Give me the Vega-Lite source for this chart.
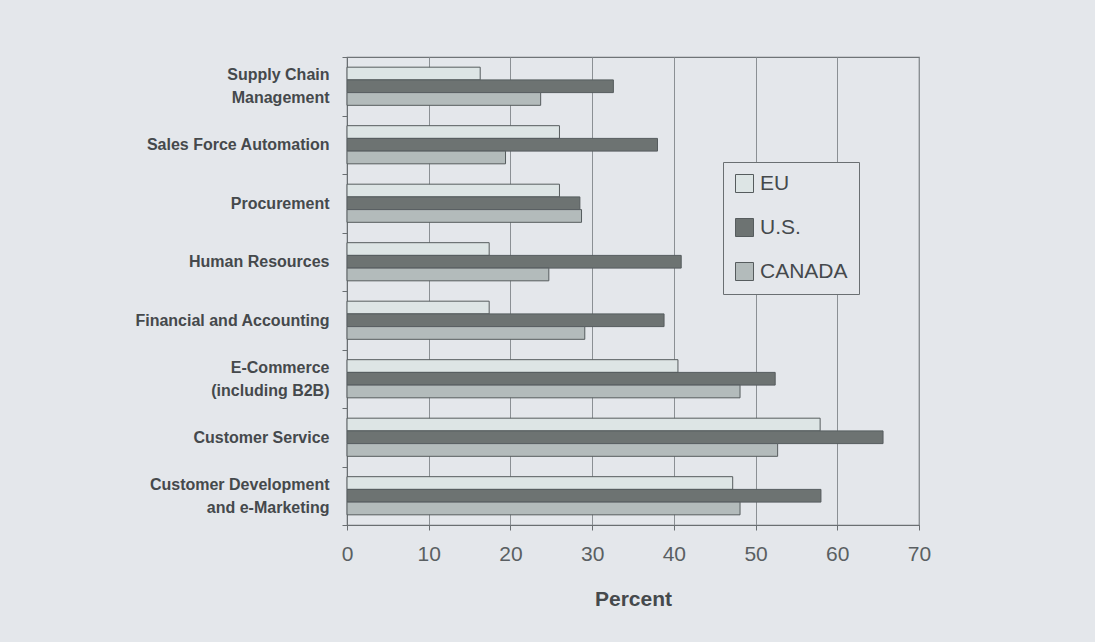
{
  "$schema": "https://vega.github.io/schema/vega-lite/v6.json",
  "width": 572,
  "height": 468,
  "autosize": {"type": "none"},
  "padding": {"left": 347, "top": 57, "right": 176, "bottom": 117},
  "background": "#e4e7eb",
  "config": {
    "font": "Liberation Sans",
    "view": {"stroke": "#6f7477", "strokeWidth": 1.2}
  },
  "data": {
    "values": [
      {"area": "Supply Chain Management", "region": "EU", "pct": 16.3},
      {"area": "Supply Chain Management", "region": "U.S.", "pct": 32.6},
      {"area": "Supply Chain Management", "region": "CANADA", "pct": 23.7},
      {"area": "Sales Force Automation", "region": "EU", "pct": 26.0},
      {"area": "Sales Force Automation", "region": "U.S.", "pct": 38.0},
      {"area": "Sales Force Automation", "region": "CANADA", "pct": 19.4},
      {"area": "Procurement", "region": "EU", "pct": 26.0},
      {"area": "Procurement", "region": "U.S.", "pct": 28.5},
      {"area": "Procurement", "region": "CANADA", "pct": 28.7},
      {"area": "Human Resources", "region": "EU", "pct": 17.4},
      {"area": "Human Resources", "region": "U.S.", "pct": 40.9},
      {"area": "Human Resources", "region": "CANADA", "pct": 24.7},
      {"area": "Financial and Accounting", "region": "EU", "pct": 17.4},
      {"area": "Financial and Accounting", "region": "U.S.", "pct": 38.8},
      {"area": "Financial and Accounting", "region": "CANADA", "pct": 29.1},
      {"area": "E-Commerce (including B2B)", "region": "EU", "pct": 40.5},
      {"area": "E-Commerce (including B2B)", "region": "U.S.", "pct": 52.4},
      {"area": "E-Commerce (including B2B)", "region": "CANADA", "pct": 48.1},
      {"area": "Customer Service", "region": "EU", "pct": 57.9},
      {"area": "Customer Service", "region": "U.S.", "pct": 65.6},
      {"area": "Customer Service", "region": "CANADA", "pct": 52.7},
      {"area": "Customer Development and e-Marketing", "region": "EU", "pct": 47.2},
      {"area": "Customer Development and e-Marketing", "region": "U.S.", "pct": 58.0},
      {"area": "Customer Development and e-Marketing", "region": "CANADA", "pct": 48.1}
    ]
  },
  "mark": {"type": "bar", "stroke": "#565c5e", "strokeWidth": 1},
  "encoding": {
    "y": {
      "field": "area",
      "type": "nominal",
      "sort": null,
      "scale": {"paddingInner": 0, "paddingOuter": 0},
      "axis": {
        "title": null,
        "domainColor": "#6a6f72",
        "tickColor": "#6a6f72",
        "tickSize": 5,
        "tickBand": "extent",
        "labelFont": "Liberation Sans",
        "labelFontWeight": "bold",
        "labelFontSize": 16,
        "labelColor": "#45494c",
        "labelPadding": 13,
        "labelLineHeight": 23,
        "labelLimit": 300,
        "labelOffset": {
          "condition": {
            "test": "indexof(['Supply Chain Management', 'E-Commerce (including B2B)', 'Customer Development and e-Marketing'], datum.value) >= 0",
            "value": -11.5
          },
          "value": 0
        },
        "labelExpr": "datum.value == 'Supply Chain Management' ? ['Supply Chain', 'Management'] : datum.value == 'E-Commerce (including B2B)' ? ['E-Commerce', '(including B2B)'] : datum.value == 'Customer Development and e-Marketing' ? ['Customer Development', 'and e-Marketing'] : datum.label"
      }
    },
    "yOffset": {
      "field": "region",
      "type": "nominal",
      "sort": ["EU", "U.S.", "CANADA"],
      "scale": {"paddingInner": 0, "paddingOuter": 0.8}
    },
    "x": {
      "field": "pct",
      "type": "quantitative",
      "scale": {"domain": [0, 70], "nice": false},
      "axis": {
        "title": "Percent",
        "values": [0, 10, 20, 30, 40, 50, 60, 70],
        "grid": true,
        "gridColor": "#8b9094",
        "gridWidth": 1,
        "domainColor": "#6a6f72",
        "tickColor": "#6a6f72",
        "tickSize": 5,
        "labelFlush": false,
        "labelFontSize": 21,
        "labelColor": "#5a5f62",
        "labelPadding": 13,
        "titleFontSize": 21,
        "titleFontWeight": "bold",
        "titleColor": "#45494c",
        "titlePadding": 24
      }
    },
    "fill": {
      "field": "region",
      "type": "nominal",
      "sort": ["EU", "U.S.", "CANADA"],
      "scale": {"domain": ["EU", "U.S.", "CANADA"], "range": ["#dde5e5", "#6d7372", "#b3bbbb"]},
      "legend": {
        "title": null,
        "orient": "none",
        "legendX": 376,
        "legendY": 105,
        "padding": 11,
        "fillColor": "#e4e7eb",
        "strokeColor": "#6a6f72",
        "symbolType": "square",
        "symbolSize": 324,
        "symbolStrokeColor": "#565c5e",
        "symbolStrokeWidth": 1,
        "labelFontSize": 21,
        "labelColor": "#45494c",
        "labelOffset": 5,
        "rowPadding": 21
      }
    }
  }
}
